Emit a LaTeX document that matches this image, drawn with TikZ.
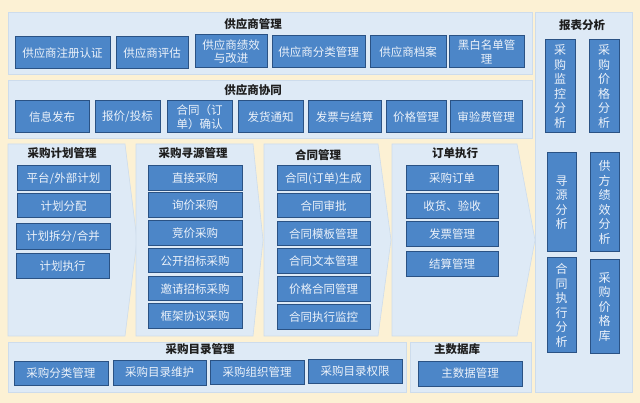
\documentclass[tikz,border=0pt]{standalone}
\usepackage{fontspec}
\setmainfont{Noto Sans CJK SC}
\definecolor{bgY}{RGB}{252,241,212}
\definecolor{panelB}{RGB}{222,234,246}
\definecolor{panelE}{RGB}{205,220,236}
\definecolor{boxB}{RGB}{76,134,200}
\definecolor{boxE}{RGB}{42,82,132}
\definecolor{boxT}{RGB}{236,242,250}
\definecolor{titleT}{RGB}{30,30,30}
\newcommand\bxat[6]{\node[bx,minimum width={(#4-#2)*1pt},minimum height={(#5-#3)*1pt}] (#1) at ({(#2+#4)/2},{(#3+#5)/2}) {#6};}
\newcommand\chev[5]{\draw[panel] (#1,#2) -- (#3,#2) -- (#4,{(#2+#5)/2}) -- (#3,#5) -- (#1,#5) -- cycle;}
\begin{document}
\begin{tikzpicture}[x=1pt,y=-1pt,
  panel/.style={fill=panelB,draw=panelE,line width=0.6pt},
  bx/.style={rectangle,fill=boxB,draw=boxE,line width=1pt,inner sep=0pt,align=center,text=boxT,font=\fontsize{11.5}{13.5}\selectfont},
  vbx/.style={bx,font=\fontsize{12}{14.5}\selectfont},
  ttl/.style={inner sep=0pt,text=titleT,font=\fontsize{11.5}{13}\selectfont\bfseries}]
\fill[bgY] (0,0) rectangle (640,403);
\useasboundingbox (0,0) rectangle (640,403);
% panels
\draw[panel] (8,12) rectangle (532,74);
\draw[panel] (8,80) rectangle (532,138);
\chev{8}{144}{125}{137}{336}
\chev{136}{144}{253}{263}{336}
\chev{264}{144}{378}{391}{336}
\chev{392}{144}{517}{535}{336}
\draw[panel] (8,342) rectangle (406,392);
\draw[panel] (410,342) rectangle (531,392);
\draw[panel] (535,12) rectangle (632,392);
% titles
\node[ttl] (t1) at (253,24) {供应商管理};
\node[ttl] (t2) at (253,90) {供应商协同};
\node[ttl] (t3) at (62,153) {采购计划管理};
\node[ttl] (t4) at (193,153) {采购寻源管理};
\node[ttl] (t5) at (318,155) {合同管理};
\node[ttl] (t6) at (455,153) {订单执行};
\node[ttl] (t7) at (200,349) {采购目录管理};
\node[ttl] (t8) at (457,349) {主数据库};
\node[ttl] (t9) at (582,25) {报表分析};
% supplier management
\bxat{a1}{15}{37}{110}{69}{供应商注册认证}
\bxat{a2}{116}{37}{188}{69}{供应商评估}
\bxat{a3}{195}{35}{267}{68}{供应商绩效\\与改进}
\bxat{a4}{272}{36}{365}{68}{供应商分类管理}
\bxat{a5}{370}{36}{446}{68}{供应商档案}
\bxat{a6}{449}{36}{524}{68}{黑白名单管\\理}
% supplier collaboration
\bxat{b1}{15}{101}{89}{133}{信息发布}
\bxat{b2}{95}{101}{160}{133}{报价/投标}
\bxat{b3}{167}{101}{232}{133}{合同（订\\单）确认}
\bxat{b4}{238}{101}{303}{133}{发货通知}
\bxat{b5}{308}{101}{381}{133}{发票与结算}
\bxat{b6}{386}{101}{446}{133}{价格管理}
\bxat{b7}{450}{101}{522}{133}{审验费管理}
% plan
\bxat{c1}{17}{166}{110}{191}{平台/外部计划}
\bxat{c2}{17}{194}{110}{218}{计划分配}
\bxat{c3}{16}{224}{110}{250}{计划拆分/合并}
\bxat{c4}{16}{254}{109}{279}{计划执行}
% sourcing
\bxat{d1}{148}{166}{242}{191}{直接采购}
\bxat{d2}{148}{193}{242}{218}{询价采购}
\bxat{d3}{148}{221}{242}{246}{竞价采购}
\bxat{d4}{148}{249}{242}{273}{公开招标采购}
\bxat{d5}{148}{277}{242}{301}{邀请招标采购}
\bxat{d6}{148}{304}{242}{329}{框架协议采购}
% contract
\bxat{e1}{277}{166}{370}{191}{合同(订单)生成}
\bxat{e2}{277}{194}{370}{218}{合同审批}
\bxat{e3}{277}{222}{370}{246}{合同模板管理}
\bxat{e4}{277}{249}{370}{274}{合同文本管理}
\bxat{e5}{277}{277}{370}{302}{价格合同管理}
\bxat{e6}{277}{305}{370}{330}{合同执行监控}
% order
\bxat{f1}{406}{166}{498}{191}{采购订单}
\bxat{f2}{406}{194}{498}{219}{收货、验收}
\bxat{f3}{406}{222}{498}{247}{发票管理}
\bxat{f4}{406}{252}{498}{277}{结算管理}
% catalogue
\bxat{g1}{14}{361}{108}{385}{采购分类管理}
\bxat{g2}{113}{360}{206}{385}{采购目录维护}
\bxat{g3}{210}{360}{304}{384}{采购组织管理}
\bxat{g4}{308}{359}{402}{383}{采购目录权限}
\bxat{g5}{418}{361}{522}{386}{主数据管理}
% reports
\node[vbx,minimum width=30pt,minimum height=93pt] (h1) at (560,86.5) {采\\购\\监\\控\\分\\析};
\node[vbx,minimum width=30pt,minimum height=93pt] (h2) at (604,86.5) {采\\购\\价\\格\\分\\析};
\node[vbx,minimum width=29pt,minimum height=99pt] (h3) at (561.5,202.5) {寻\\源\\分\\析};
\node[vbx,minimum width=29pt,minimum height=99pt] (h4) at (604.5,202.5) {供\\方\\绩\\效\\分\\析};
\node[vbx,minimum width=29pt,minimum height=95pt] (h5) at (561.5,305.5) {合\\同\\执\\行\\分\\析};
\node[vbx,minimum width=29pt,minimum height=94pt] (h6) at (604.5,307) {采\\购\\价\\格\\库};
\end{tikzpicture}
\end{document}
